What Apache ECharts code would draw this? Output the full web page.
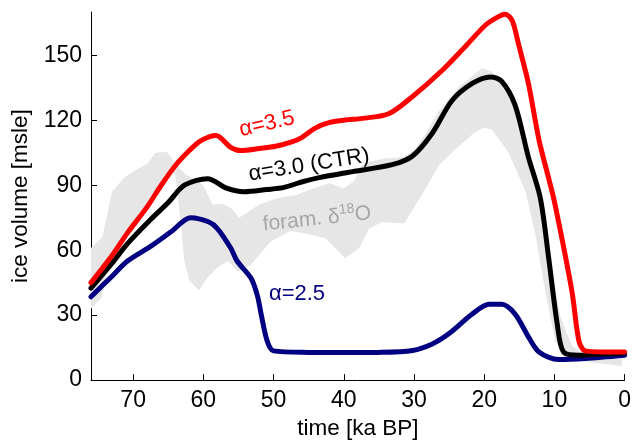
<!DOCTYPE html>
<html>
<head>
<meta charset="utf-8">
<script src="https://cdn.jsdelivr.net/npm/echarts@6/dist/echarts.min.js"></script>
<style>html,body{margin:0;padding:0;background:#fff}#c{width:634px;height:445px}</style>
</head>
<body>
<div id="c"></div>
<script>
// ---- data (time ka BP, ice volume msle) ----
const xTicks = [0, 10, 20, 30, 40, 50, 60, 70];
const yTicks = [0, 30, 60, 90, 120, 150];

const alpha35 = [[76,45],[73,57.5],[70.8,68],[68,80],[66,90],[64,99],[62,106],[60.4,110.5],[58.2,113],[56.1,107.5],[54.7,106],[52,107],[49.7,108],[47.4,110],[46,112],[44,116.5],[42,119],[40,120],[37,121],[33.6,123],[30.2,131],[26,143],[22.7,154],[19.8,164],[17.9,168],[17,169],[16,166],[15.1,155],[13.7,137],[12.2,111],[10.8,93],[9.9,81],[7.5,41],[6.5,18],[5.6,13.5],[3,13],[0,13]];

const alpha30 = [[76,42.5],[73,54],[70.8,63],[67.4,74.5],[65,82],[62.7,90],[59.4,93],[56.6,88.5],[54.2,87],[51,88],[48.5,89],[46,91.5],[43.5,93.5],[39.3,96],[33.1,99.5],[30.2,103.5],[27.4,114],[24.6,129],[21.7,137],[19.1,140],[17.5,138],[15.6,127],[13.7,103],[12,84],[10.8,56],[9.6,26],[8.7,13],[6.5,11.5],[3,12],[0,12.5]];

const alpha25 = [[76,38.5],[73,48],[70.8,55],[67.4,62],[64.6,68.5],[61.8,75],[59.2,73],[58,70],[56.1,61],[55.2,55],[53.2,47],[52.3,39],[51.8,31],[50.9,18],[50,13.5],[45,12.8],[40,12.7],[35,12.8],[30.2,13.7],[27.4,16.7],[25,21.5],[21.7,30.5],[19.3,35],[17.5,35],[15.6,30.5],[13.7,20],[12.2,13],[9.4,9.5],[5.6,10],[0,11.5]];

const foramUpper = [[76,61],[74.4,66],[73,87],[71.3,93.5],[69.4,97.5],[68,100],[66.8,105],[65.2,105.5],[63.7,99],[62.5,95],[60,90],[58.7,81],[57.3,81.5],[55.9,79],[54.9,75],[53,79],[52.1,81],[49.5,84],[46.8,85.5],[44,89],[42,91],[40,88.5],[38.5,92],[37.5,99],[36.4,101],[34,102.5],[31.5,103],[30,106],[28.5,113],[26.5,124],[23.6,135.5],[20.3,144],[18.9,142.5],[17,134],[15.1,124],[13.7,104],[12,88],[11,68],[10,45],[9.2,30],[8.4,23],[7.5,16],[6,12],[3,10.5],[0.4,10]];

const foramLower = [[76,33],[74.5,38],[74,45],[73.5,56],[70,70],[67,85],[64.5,96],[64,95],[63.3,75],[62.7,55],[62,46],[60.6,41.5],[59.5,47],[58,52],[56.5,55],[55,50],[53.3,53],[50.4,64],[47.6,69],[44.5,67],[42.6,65.5],[39.8,56.3],[37.8,61],[36.4,70],[34.5,73],[31.4,72.3],[30.7,76],[28.8,86],[26.5,99],[24.1,106.6],[21.5,114],[20.1,116.5],[18.9,115.7],[16.5,105],[14.1,87],[12.7,67],[11.3,41],[9.9,18.3],[8.5,10.6],[5,8.2],[0.4,6.5]];

// ---- chart ----
const FONT = 'Liberation Sans, Arial, Helvetica, sans-serif';
const chart = echarts.init(document.getElementById('c'), null, {renderer: 'canvas'});

function lineSeries(data, color) {
  return {
    type: 'line', data: data, showSymbol: false, symbol: 'none', smooth: 0.3,
    lineStyle: {color: color, width: 5, cap: 'round', join: 'round'},
    z: 3, silent: true, animation: false
  };
}

chart.setOption({
  animation: false,
  backgroundColor: '#ffffff',
  textStyle: {fontFamily: FONT},
  grid: {left: 91, right: 8, top: 12, bottom: 62, containLabel: false},
  xAxis: {
    type: 'value', min: 0, max: 76, inverse: true,
    name: 'time [ka BP]', nameLocation: 'middle', nameGap: 32,
    nameTextStyle: {fontSize: 22.5, color: '#000', fontFamily: FONT},
    axisLine: {show: true, onZero: false, lineStyle: {color: '#000', width: 1}},
    axisTick: {show: true, inside: true, length: 6, customValues: xTicks, lineStyle: {color: '#000'}},
    axisLabel: {fontSize: 23, color: '#000', margin: 9, customValues: xTicks, fontFamily: FONT},
    splitLine: {show: false}
  },
  yAxis: {
    type: 'value', min: 0, max: 170,
    name: 'ice volume [msle]', nameLocation: 'middle', nameGap: 57,
    nameTextStyle: {fontSize: 22.5, color: '#000', fontFamily: FONT},
    axisLine: {show: true, onZero: false, lineStyle: {color: '#000', width: 1}},
    axisTick: {show: true, inside: true, length: 6, customValues: yTicks, lineStyle: {color: '#000'}},
    axisLabel: {fontSize: 23, color: '#000', margin: 9, customValues: yTicks, fontFamily: FONT},
    splitLine: {show: false}
  },
  series: [
    {
      type: 'custom', silent: true, z: 1, animation: false,
      data: [[0, 0]],
      renderItem: function (params, api) {
        const pts = foramUpper.map(p => api.coord(p))
          .concat(foramLower.slice().reverse().map(p => api.coord(p)));
        return {type: 'polygon', shape: {points: pts}, style: {fill: '#e6e6e6', stroke: null}};
      }
    },
    lineSeries(alpha25, '#000080'),
    lineSeries(alpha30, '#000000'),
    lineSeries(alpha35, '#ff0000')
  ],
  graphic: [
    {type: 'text', x: 267, y: 124, rotation: 13 * Math.PI / 180, z: 10,
     style: {text: 'α=3.5', fill: '#ff0000', font: '22px ' + FONT, align: 'center', verticalAlign: 'middle'}},
    {type: 'text', x: 309, y: 165, rotation: 9 * Math.PI / 180, z: 10,
     style: {text: 'α=3.0 (CTR)', fill: '#000000', font: '22px ' + FONT, align: 'center', verticalAlign: 'middle'}},
    {type: 'text', x: 317, y: 219, rotation: 6 * Math.PI / 180, z: 10,
     style: {text: 'foram. δ{sup|18}O', fill: '#a6a6a6', font: '21px ' + FONT, align: 'center', verticalAlign: 'middle',
             rich: {sup: {fontSize: 14, fill: '#a6a6a6', fontFamily: FONT, padding: [0, 0, 13, 0]}}}},
    {type: 'text', x: 297, y: 294, z: 10,
     style: {text: 'α=2.5', fill: '#000080', font: '22px ' + FONT, align: 'center', verticalAlign: 'middle'}}
  ]
});
</script>
</body>
</html>
